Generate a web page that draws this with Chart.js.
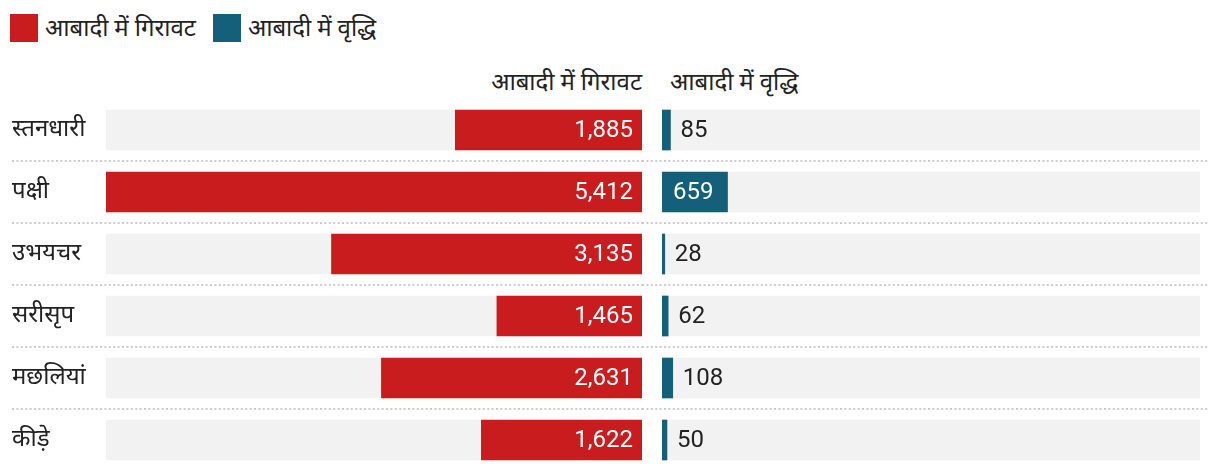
<!DOCTYPE html>
<html>
<head>
<meta charset="utf-8">
<script src="https://cdn.jsdelivr.net/npm/chart.js@4.4.0/dist/chart.umd.min.js"></script>
<style>
  body { margin: 0; background: #fff; font-family: Roboto, 'Noto Sans', sans-serif; }
  #wrap { position: relative; width: 1220px; height: 472px; }
  .legend { position: absolute; top: 14px; left: 10px; display: flex; align-items: center; font-size: 24px; line-height: 28px; color: #222; }
  .legend span.box { display: inline-block; width: 28px; height: 28px; margin-right: 7px; }
  .legend .item { display: flex; align-items: center; margin-right: 17px; }
  .head { position: absolute; top: 68px; font-size: 24px; line-height: 28px; color: #222; white-space: nowrap; }
  #left { position: absolute; left: 0; top: 0; }
  #right { position: absolute; left: 642px; top: 0; }
</style>
</head>
<body>
<div id="wrap">
  <div class="legend">
    <div class="item"><span class="box" style="background:#c81c1e"></span><span id="lg0"></span></div>
    <div class="item"><span class="box" style="background:#14607a"></span><span id="lg1"></span></div>
  </div>
  <div class="head" id="h0" style="right:578px"></div>
  <div class="head" id="h1" style="left:670px"></div>
  <canvas id="left" width="642" height="472"></canvas>
  <canvas id="right" width="578" height="472"></canvas>
</div>
<script>
const categories = ['स्तनधारी', 'पक्षी', 'उभयचर', 'सरीसृप', 'मछलियां', 'कीड़े'];
const decline = [1885, 5412, 3135, 1465, 2631, 1622];
const growth = [85, 659, 28, 62, 108, 50];
const seriesNames = ['आबादी में गिरावट', 'आबादी में वृद्धि'];
const axisMax = 5412;

const RED = '#c81c1e';
const TEAL = '#14607a';
const GREY = '#f2f2f2';
const FONT = 'Roboto, "Noto Sans", sans-serif';

document.getElementById('lg0').textContent = seriesNames[0];
document.getElementById('lg1').textContent = seriesNames[1];
document.getElementById('h0').textContent = seriesNames[0];
document.getElementById('h1').textContent = seriesNames[1];

// dotted separators between rows
const separators = {
  id: 'separators',
  beforeDatasetsDraw(chart, args, opts) {
    const { ctx } = chart;
    const y = chart.scales.y;
    ctx.save();
    ctx.strokeStyle = '#cccccc';
    ctx.lineWidth = 2;
    ctx.setLineDash([2, 2.4]);
    for (let i = 0; i < categories.length - 1; i++) {
      const yy = Math.floor((y.getPixelForValue(i) + y.getPixelForValue(i + 1)) / 2);
      ctx.beginPath();
      ctx.moveTo(opts.x0, yy);
      ctx.lineTo(opts.x1, yy);
      ctx.stroke();
    }
    ctx.restore();
  }
};

// value labels on bars
const valueLabels = {
  id: 'valueLabels',
  afterDatasetsDraw(chart, args, opts) {
    const { ctx } = chart;
    const meta = chart.getDatasetMeta(1);
    const data = chart.data.datasets[1].data;
    ctx.save();
    ctx.font = '24px ' + FONT;
    ctx.textBaseline = 'middle';
    meta.data.forEach((bar, i) => {
      const txt = data[i].toLocaleString('en-US');
      const w = ctx.measureText(txt).width;
      const len = Math.abs(bar.x - bar.base);
      if (opts.side === 'left') {
        ctx.fillStyle = '#fff';
        ctx.textAlign = 'right';
        ctx.fillText(txt, bar.base - 9, bar.y + 1);
      } else if (len > w + 20) {
        ctx.fillStyle = '#fff';
        ctx.textAlign = 'left';
        ctx.fillText(txt, bar.base + 11, bar.y + 1);
      } else {
        ctx.fillStyle = '#222';
        ctx.textAlign = 'left';
        ctx.fillText(txt, bar.x + 10, bar.y + 1);
      }
    });
    ctx.restore();
  }
};

function makeChart(id, values, color, side) {
  const isLeft = side === 'left';
  return new Chart(document.getElementById(id), {
    type: 'bar',
    data: {
      labels: categories,
      datasets: [
        { data: categories.map(() => axisMax), backgroundColor: GREY, order: 2 },
        { data: values, backgroundColor: color, order: 1 }
      ]
    },
    options: {
      indexAxis: 'y',
      responsive: false,
      animation: false,
      events: [],
      layout: { padding: { top: 99, bottom: 1, left: isLeft ? 12 : 20, right: isLeft ? 0 : 20 } },
      datasets: { bar: { grouped: false, barThickness: 40 } },
      plugins: {
        legend: { display: false },
        tooltip: { enabled: false },
        separators: isLeft ? { x0: 12, x1: 642 } : { x0: 0, x1: 566 },
        valueLabels: { side: side }
      },
      scales: {
        x: {
          display: false,
          reverse: isLeft,
          min: 0,
          max: axisMax
        },
        y: {
          display: isLeft,
          grid: { display: false },
          border: { display: false },
          ticks: {
            crossAlign: 'far',
            color: '#222',
            font: { family: FONT, size: 24 }
          },
          afterFit(scale) {
            if (isLeft) scale.width = 94;
            scale.paddingTop = 0;
            scale.paddingBottom = 0;
          }
        }
      }
    },
    plugins: [separators, valueLabels]
  });
}

makeChart('left', decline, RED, 'left');
makeChart('right', growth, TEAL, 'right');
</script>
</body>
</html>
